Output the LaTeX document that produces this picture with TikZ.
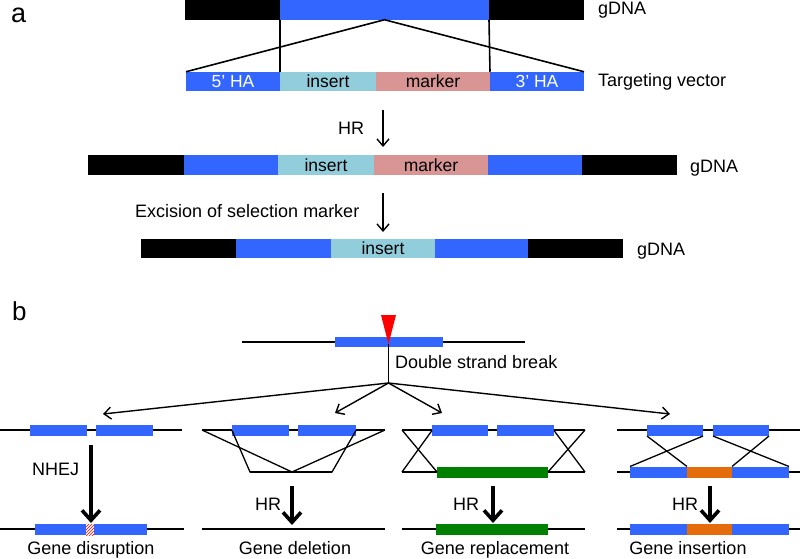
\documentclass[tikz,border=0pt]{standalone}
\usepackage{fontspec}
\setmainfont{Liberation Sans}
\usetikzlibrary{positioning,arrows.meta,patterns}

\definecolor{haBlue}{RGB}{51,102,255}
\definecolor{insBlue}{RGB}{146,205,220}
\definecolor{mkPink}{RGB}{217,149,148}
\definecolor{repGreen}{RGB}{0,128,0}
\definecolor{insOrange}{RGB}{228,108,10}

\tikzset{
  seg/.style={rectangle, inner sep=0pt, outer sep=0pt, minimum height=19.5pt, font=\fontsize{17.5}{17.5}\selectfont},
  band/.style={rectangle, inner sep=0pt, outer sep=0pt, minimum height=11pt},
  lbl/.style={anchor=base west, inner sep=0pt, font=\fontsize{18}{18}\selectfont},
  dna/.style={line width=2.6pt},
  arm/.style={line width=1.3pt},
  thinarrow/.style={line width=1.4pt, -{Straight Barb[length=7pt, width=12pt]}},
  fatarrow/.style={line width=3.6pt, -{Straight Barb[length=10pt, width=18pt]}},
}

\begin{document}
\begin{tikzpicture}[x=1pt, y=-1pt]
			\useasboundingbox (0,0) rectangle (800,559);
			% Panel a: targeting vector and HR
			\node[anchor=base west, inner sep=0pt, font=\fontsize{27}{27}\selectfont] (la) at (11,23) {a};
			\node[seg, fill=black, minimum width=95pt, anchor=west] (g1) at (185,10) {};
			\node[seg, fill=haBlue, minimum width=209pt, right=0pt of g1] (g2) {};
			\node[seg, fill=black, minimum width=95pt, right=0pt of g2] (g3) {};
			\node[lbl] (gl1) at (598,15) {gDNA};
			\node[seg, fill=haBlue, text=white, minimum width=94pt, anchor=west] (v1) at (186,81.5) {5’ HA};
			\node[seg, fill=insBlue, minimum width=96pt, right=0pt of v1] (v2) {insert};
			\node[seg, fill=mkPink, minimum width=114pt, right=0pt of v2] (v3) {marker};
			\node[seg, fill=haBlue, text=white, minimum width=94pt, right=0pt of v3] (v4) {3’ HA};
			\node[lbl] (tv) at (598,87) {Targeting vector};
			\draw[line width=1.6pt] (g1.south east) -- (v1.north east);
			\draw[line width=1.6pt] (g2.south east) -- (v3.north east);
			\draw[line width=1.6pt] (v1.north west) -- (g2.south) -- (v4.north east);
			\coordinate (hr1s) at (383,110);
			\coordinate (hr1e) at (383,147);
			\draw[thinarrow] (hr1s) -- (hr1e);
			\node[lbl] (hr1) at (338,135) {HR};
			\node[seg, fill=black, minimum width=96pt, anchor=west] (r1) at (88,165) {};
			\node[seg, fill=haBlue, minimum width=94pt, right=0pt of r1] (r2) {};
			\node[seg, fill=insBlue, minimum width=96pt, right=0pt of r2] (r3) {insert};
			\node[seg, fill=mkPink, minimum width=114pt, right=0pt of r3] (r4) {marker};
			\node[seg, fill=haBlue, minimum width=94pt, right=0pt of r4] (r5) {};
			\node[seg, fill=black, minimum width=95pt, right=0pt of r5] (r6) {};
			\node[lbl] (gl2) at (690,172) {gDNA};
			\coordinate (ex1s) at (383,193);
			\coordinate (ex1e) at (383,232);
			\draw[thinarrow] (ex1s) -- (ex1e);
			\node[lbl] (exc) at (135,217) {Excision of selection marker};
			\node[seg, fill=black, minimum width=95pt, anchor=west] (f1) at (141,248.5) {};
			\node[seg, fill=haBlue, minimum width=95pt, right=0pt of f1] (f2) {};
			\node[seg, fill=insBlue, minimum width=104pt, right=0pt of f2] (f3) {insert};
			\node[seg, fill=haBlue, minimum width=93pt, right=0pt of f3] (f4) {};
			\node[seg, fill=black, minimum width=95pt, right=0pt of f4] (f5) {};
			\node[lbl] (gl3) at (637,255) {gDNA};
			% Panel b: double strand break and repair outcomes
			\node[anchor=base west, inner sep=0pt, font=\fontsize{26}{26}\selectfont] (lb) at (12,320) {b};
			\coordinate (d0) at (242,342);
			\coordinate (d1) at (525,342);
			\draw[dna] (d0) -- (d1);
			\node[band, fill=haBlue, minimum width=108pt, minimum height=10pt] (dsb) at (389,342) {};
			\coordinate (cut) at (388.5,344);
			\coordinate (hub) at (388.5,383);
			\fill[red] (381,315) -- (396,315) -- (cut) -- cycle;
			\draw[arm] (cut) -- (hub);
			\node[lbl] (dsbl) at (395,368) {Double strand break};
			\coordinate (br1) at (103,414);
			\coordinate (br2) at (335,413);
			\coordinate (br3) at (442,413);
			\coordinate (br4) at (670,414);
			\draw[thinarrow] (hub) -- (br1);
			\draw[thinarrow] (hub) -- (br2);
			\draw[thinarrow] (hub) -- (br3);
			\draw[thinarrow] (hub) -- (br4);
			% Gene disruption
			\coordinate (p1a) at (0,430);
			\coordinate (p1b) at (182,430);
			\draw[dna] (p1a) -- (p1b);
			\node[band, fill=haBlue, minimum width=57pt, anchor=west] (p1l) at (30,430.5) {};
			\node[band, fill=haBlue, minimum width=57pt, anchor=west] (p1r) at (96,430.5) {};
			\coordinate (p1s) at (91,445);
			\coordinate (p1e) at (91,523);
			\draw[fatarrow] (p1s) -- (p1e);
			\node[lbl] (nhej) at (32,475) {NHEJ};
			\coordinate (p1c) at (0,529);
			\coordinate (p1d) at (184,529);
			\draw[dna] (p1c) -- (p1d);
			\node[band, fill=haBlue, minimum width=112pt, anchor=west] (p1bar) at (35,529.5) {};
			\node[band, minimum width=8pt, preaction={fill=white}, pattern=north east lines, pattern color=red] (p1cut) at (90,529.5) {};
			\node[lbl, anchor=base] (t1) at (91,554) {Gene disruption};
			% Gene deletion
			\coordinate (p2a) at (202,430);
			\coordinate (p2b) at (385,430);
			\coordinate (p2c) at (250,472);
			\coordinate (p2m) at (292,472);
			\coordinate (p2d) at (332,472);
			\draw[dna] (p2a) -- (p2b);
			\node[band, fill=haBlue, minimum width=57pt, anchor=west] (p2l) at (232,430.5) {};
			\node[band, fill=haBlue, minimum width=58pt, anchor=west] (p2r) at (298,430.5) {};
			\draw[arm] (p2a) -- (p2m) -- (p2b);
			\draw[arm] (p2l.west) -- (p2c) -- (p2d) -- (p2r.east);
			\draw[dna] (p2c) -- (p2d);
			\coordinate (p2s) at (292,486);
			\coordinate (p2e) at (292,525);
			\draw[fatarrow] (p2s) -- (p2e);
			\node[lbl] (hr2) at (255,510) {HR};
			\coordinate (p2f) at (202,529);
			\coordinate (p2g) at (385,529);
			\draw[dna] (p2f) -- (p2g);
			\node[lbl, anchor=base] (t2) at (295,554) {Gene deletion};
			% Gene replacement
			\coordinate (p3a) at (402,430);
			\coordinate (p3b) at (585,430);
			\coordinate (p3c) at (402,472);
			\coordinate (p3d) at (585,472);
			\draw[dna] (p3a) -- (p3b);
			\draw[dna] (p3c) -- (p3d);
			\node[band, fill=haBlue, minimum width=56pt, anchor=west] (p3l) at (432,430.5) {};
			\node[band, fill=haBlue, minimum width=57pt, anchor=west] (p3r) at (497,430.5) {};
			\node[band, fill=repGreen, minimum width=111pt, anchor=west] (p3g) at (437,472) {};
			\draw[arm] (p3a) -- (p3g.west);
			\draw[arm] (p3c) -- (p3l.west);
			\draw[arm] (p3r.east) -- (p3d);
			\draw[arm] (p3b) -- (p3g.east);
			\coordinate (p3s) at (493,486);
			\coordinate (p3e) at (493,523);
			\draw[fatarrow] (p3s) -- (p3e);
			\node[lbl] (hr3) at (453,510) {HR};
			\coordinate (p3f) at (402,529);
			\coordinate (p3g2) at (585,529);
			\draw[dna] (p3f) -- (p3g2);
			\node[band, fill=repGreen, minimum width=112pt, anchor=west] (p3h) at (436,529.5) {};
			\node[lbl, anchor=base] (t3) at (495,554) {Gene replacement};
			% Gene insertion
			\coordinate (p4a) at (617,430);
			\coordinate (p4b) at (800,430);
			\coordinate (p4c) at (617,472);
			\coordinate (p4d) at (800,472);
			\draw[dna] (p4a) -- (p4b);
			\draw[dna] (p4c) -- (p4d);
			\node[band, fill=haBlue, minimum width=56pt, anchor=west] (p4l) at (647,430.5) {};
			\node[band, fill=haBlue, minimum width=56pt, anchor=west] (p4r) at (713,430.5) {};
			\node[band, fill=haBlue, minimum width=57pt, anchor=west] (p4u) at (630,472) {};
			\node[band, fill=insOrange, minimum width=45pt, right=0pt of p4u] (p4o) {};
			\node[band, fill=haBlue, minimum width=57pt, right=0pt of p4o] (p4w) {};
			\draw[arm] (p4l.south west) -- (p4u.north east);
			\draw[arm] (p4l.south east) -- (p4u.north west);
			\draw[arm] (p4r.south west) -- (p4w.north east);
			\draw[arm] (p4r.south east) -- (p4w.north west);
			\coordinate (p4s) at (710,486);
			\coordinate (p4e) at (710,523);
			\draw[fatarrow] (p4s) -- (p4e);
			\node[lbl] (hr4) at (672,510) {HR};
			\coordinate (p4f) at (617,529);
			\coordinate (p4g) at (800,529);
			\draw[dna] (p4f) -- (p4g);
			\node[band, fill=haBlue, minimum width=57pt, anchor=west] (p4x) at (630,529.5) {};
			\node[band, fill=insOrange, minimum width=45pt, right=0pt of p4x] (p4y) {};
			\node[band, fill=haBlue, minimum width=57pt, right=0pt of p4y] (p4z) {};
			\node[lbl, anchor=base] (t4) at (688,554) {Gene insertion};
\end{tikzpicture}
\end{document}
